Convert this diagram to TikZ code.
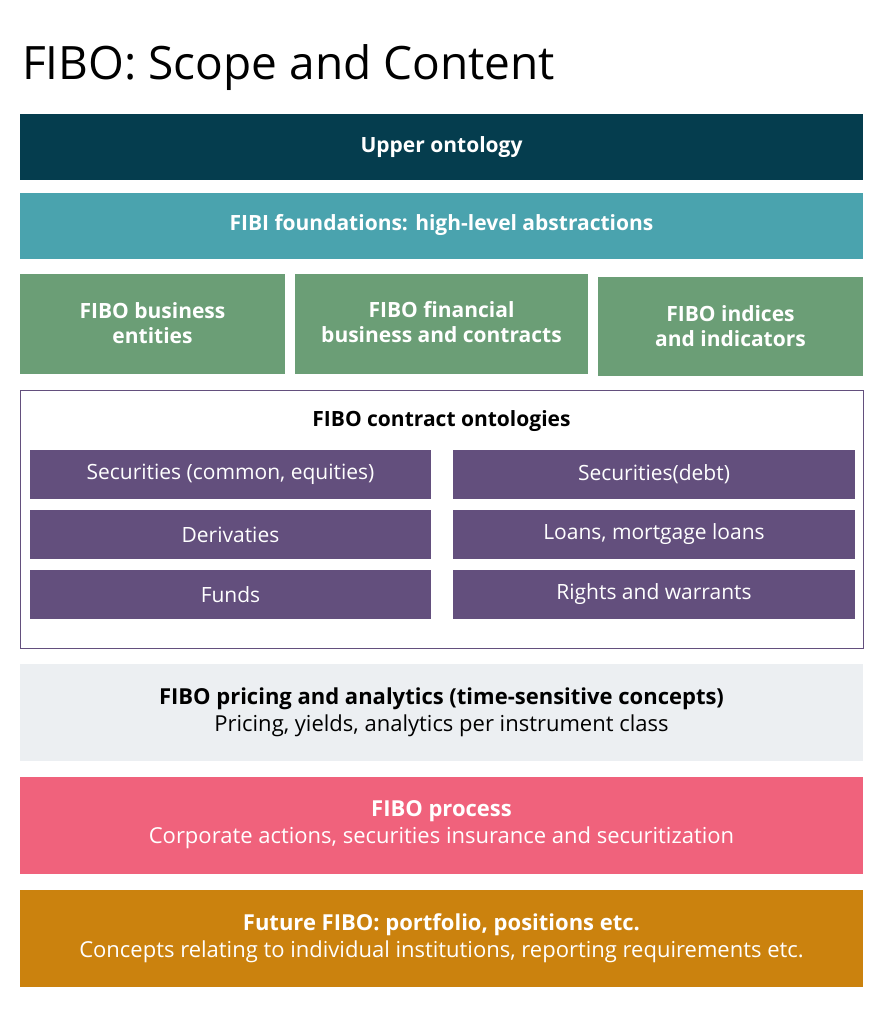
\documentclass[tikz,border=0pt]{standalone}
\usepackage{fontspec}
\setmainfont{Open Sans}
\definecolor{cUp}{HTML}{053D4E}
\definecolor{cFo}{HTML}{4AA3AE}
\definecolor{cGr}{HTML}{6B9E76}
\definecolor{cPu}{HTML}{634F7D}
\definecolor{cPr}{HTML}{ECEFF2}
\definecolor{cPc}{HTML}{F0627C}
\definecolor{cFu}{HTML}{CB820E}
\begin{document}
\begin{tikzpicture}[x=1pt,y=-1pt,
  wb/.style={text=white,align=center,font=\fontsize{21}{25}\selectfont\bfseries},
  pt/.style={text=white,font=\fontsize{21}{25}\selectfont},
  two/.style={align=center,font=\fontsize{22}{27}\selectfont}]
\useasboundingbox (0,0) rectangle (884,1018);
\node[anchor=base west,inner sep=0pt,font=\fontsize{46}{52}\selectfont] (title) at (22,79) {FIBO: Scope and Content};
\fill[cUp] (20,114) rectangle (863,180);
\node[wb] (up) at (441.5,147) {Upper ontology};
\fill[cFo] (20,193) rectangle (863,259);
\node[wb] (fo) at (441.5,225) {FIBI foundations: high-level abstractions};
\fill[cGr] (20,274) rectangle (285,374);
\node[wb] (g1) at (152.5,323) {FIBO business\\entities};
\fill[cGr] (295,274) rectangle (588,374);
\node[wb] (g2) at (441.5,322) {FIBO financial\\business and contracts};
\fill[cGr] (598,277) rectangle (863,376);
\node[wb] (g3) at (730.5,326) {FIBO indices\\and indicators};
\draw[cPu,line width=1pt] (20,390) rectangle (863,648);
\node[font=\fontsize{21}{25}\selectfont\bfseries] (ct) at (441.5,421) {FIBO contract ontologies};
\foreach \y/\a/\b [count=\i] in {450/{Securities (common, equities)}/{Securities(debt)},510/{Derivaties}/{Loans, mortgage loans},570/{Funds}/{Rights and warrants}}{
  \fill[cPu] (30,\y) rectangle (431,\y+49);
  \fill[cPu] (453,\y) rectangle (855,\y+49);
  \node[pt] (l\i) at (230.5,\y+24.5) {\a};
  \node[pt] (r\i) at (654,\y+24.5) {\b};
}
\fill[cPr] (20,664) rectangle (863,761);
\node[two] (pr) at (441.5,712) {\textbf{FIBO pricing and analytics (time-sensitive concepts)}\\Pricing, yields, analytics per instrument class};
\fill[cPc] (20,777) rectangle (863,874);
\node[two,text=white] (pc) at (441.5,825) {\textbf{FIBO process}\\Corporate actions, securities insurance and securitization};
\fill[cFu] (20,890) rectangle (863,987);
\node[two,text=white] (fu) at (441.5,938) {\textbf{Future FIBO: portfolio, positions etc.}\\Concepts relating to individual institutions, reporting requirements etc.};
\end{tikzpicture}
\end{document}
